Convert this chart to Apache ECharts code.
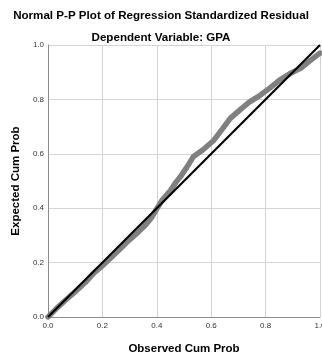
<!DOCTYPE html>
<html>
<head>
<meta charset="utf-8">
<script src="https://cdn.jsdelivr.net/npm/echarts@6/dist/echarts.min.js"></script>
<style>html,body{margin:0;padding:0;background:#fff}#c{width:322px;height:356px}</style>
</head>
<body>
<div id="c"></div>
<script>
const titleText = "Normal P-P Plot of Regression Standardized Residual";
const subtitleText = "Dependent Variable: GPA";
const xAxisName = "Observed Cum Prob";
const yAxisName = "Expected Cum Prob";
const observedCum = [0,0.03,0.06,0.10,0.14,0.17,0.20,0.23,0.26,0.29,0.33,0.36,0.38,0.40,0.42,0.45,0.47,0.49,0.51,0.535,0.57,0.61,0.64,0.67,0.71,0.74,0.78,0.82,0.85,0.89,0.93,0.96,0.99,1.0];
const expectedCum = [0,0.03,0.058,0.093,0.13,0.163,0.188,0.217,0.245,0.275,0.31,0.34,0.365,0.398,0.43,0.465,0.495,0.52,0.55,0.59,0.615,0.65,0.69,0.73,0.765,0.79,0.815,0.845,0.87,0.895,0.915,0.94,0.963,0.97];
const refLine = [[0,0],[1,1]];

const chart = echarts.init(document.getElementById('c'), null, {renderer:'canvas'});
const font = 'Liberation Sans, Arial, sans-serif';
chart.setOption({
  animation:false,
  backgroundColor:'#fff',
  title:[
    {text:titleText,left:'center',top:5,textStyle:{fontFamily:font,fontSize:11.6,fontWeight:'bold',color:'#000'}},
    {text:subtitleText,left:'center',top:27,textStyle:{fontFamily:font,fontSize:11.6,fontWeight:'bold',color:'#000'}}
  ],
  grid:{left:48,right:2,top:45,bottom:39,containLabel:false,outerBoundsMode:'none'},
  xAxis:{type:'value',min:0,max:1,interval:0.2,
    name:xAxisName,nameLocation:'middle',nameGap:26,
    nameTextStyle:{fontFamily:font,fontSize:11.5,fontWeight:'bold',color:'#000'},
    axisLine:{lineStyle:{color:'#8c8c8c',width:1}},axisTick:{show:false},
    axisLabel:{fontFamily:font,fontSize:8,color:'#333',margin:5,formatter:v=>v.toFixed(1)},
    splitLine:{show:true,lineStyle:{color:'#d4d4d4',width:1}}},
  yAxis:{type:'value',min:0,max:1,interval:0.2,
    name:yAxisName,nameLocation:'middle',nameGap:24,
    nameTextStyle:{fontFamily:font,fontSize:11.5,fontWeight:'bold',color:'#000'},
    axisLine:{show:true,lineStyle:{color:'#8c8c8c',width:1}},axisTick:{show:false},
    axisLabel:{fontFamily:font,fontSize:8,color:'#333',margin:4,formatter:v=>v.toFixed(1)},
    splitLine:{show:true,lineStyle:{color:'#d4d4d4',width:1}}},
  series:[
    {type:'line',data:observedCum.map((x,i)=>[x,expectedCum[i]]),symbol:'none',
      lineStyle:{color:'#808080',width:5.5,cap:'round',join:'round'},z:2},
    {type:'line',data:refLine,symbol:'none',lineStyle:{color:'#000',width:2.2},z:3}
  ]
});
</script>
</body>
</html>
